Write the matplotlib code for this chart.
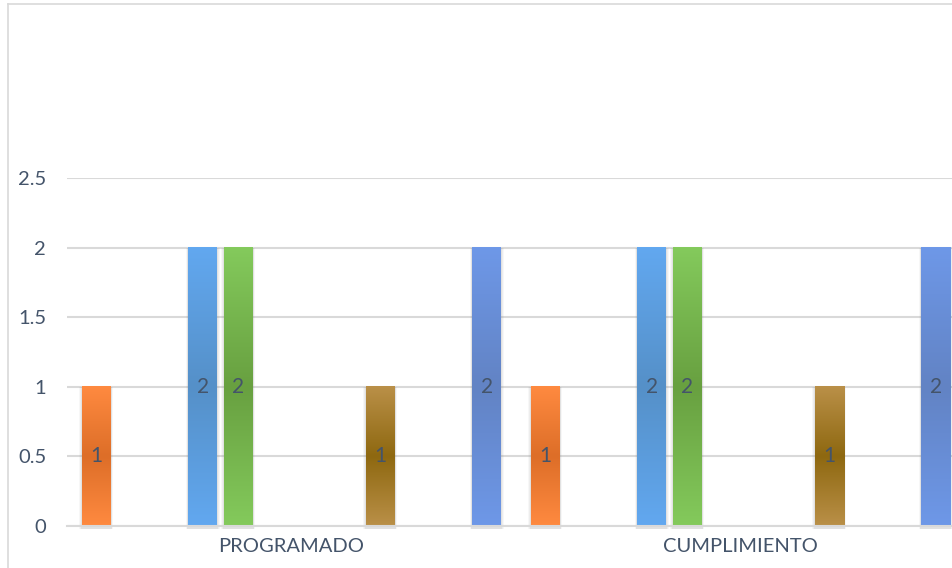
import numpy as np
import matplotlib
matplotlib.use("Agg")
import matplotlib.pyplot as plt
from matplotlib.colors import LinearSegmentedColormap
from matplotlib.patches import Rectangle
from matplotlib.lines import Line2D

plt.rcParams['font.family'] = ['Lato', 'DejaVu Sans']

categories = ['PROGRAMADO', 'CUMPLIMIENTO']
# 12 series, the same values in both categories (zeros are not drawn)
series_values = [1, 0, 0, 2, 2, 0, 0, 0, 1, 0, 0, 2]
# light / dark pairs for the gradient fill of each series
light_colors = ['#FF8A40', '#7F9FD0', '#C0C0C0', '#62A8F0', '#84CA5C', '#5A80C0',
                '#C06030', '#909090', '#BA9048', '#4070B0', '#60A040', '#6E98E8']
dark_colors = ['#DD6E28', '#5F7FB0', '#A0A0A0', '#5590C8', '#68A040', '#3A60A0',
               '#A04010', '#707070', '#8E6810', '#205090', '#407020', '#6283C4']
yticks = [0, 0.5, 1, 1.5, 2, 2.5]

W, H = 952, 568
fig = plt.figure(figsize=(W / 100, H / 100), dpi=100)
# plot area: x from 67px to 965px (runs off the right edge), y from 178px to 526px
ax = fig.add_axes([67 / W, (H - 526) / H, (965 - 67) / W, (526 - 178) / H])

text_col = '#44546A'
grid_col = '#D9D9D9'
n = len(series_values)
step = 35.5 / 449
bw = 29 / 449
grad = np.linspace(0, 1, 256).reshape(-1, 1)

for ci, cat in enumerate(categories):
    for si, v in enumerate(series_values):
        if v == 0:
            continue
        x = ci + (si - (n - 1) / 2) * step
        x0, x1 = x - bw / 2, x + bw / 2
        # soft shadow
        for k, a in [(0.012, 0.06), (0.007, 0.08), (0.004, 0.10)]:
            ax.add_patch(Rectangle((x0 - k / 2, -0.02), bw + k, v + 0.02,
                                   facecolor='#808080', edgecolor='none',
                                   alpha=a, zorder=1.5, clip_on=False))
        cmap = LinearSegmentedColormap.from_list('g%d' % si,
                                                 [light_colors[si], dark_colors[si], light_colors[si]])
        ax.imshow(grad, cmap=cmap, extent=[x0, x1, 0, v], aspect='auto',
                  origin='lower', zorder=2, interpolation='bilinear')
        ax.text(x, v / 2, str(v), ha='center', va='center', fontsize=15,
                color=text_col, zorder=3)

ax.set_xlim(-0.5, 1.5)
ax.set_ylim(0, 2.5)
ax.set_yticks(yticks)
ax.set_yticklabels(['0', '0.5', '1', '1.5', '2', '2.5'])
ax.set_xticks(range(len(categories)))
ax.set_xticklabels(categories)
ax.tick_params(axis='both', length=0, labelsize=14.5, labelcolor=text_col)
ax.tick_params(axis='y', pad=15)
ax.tick_params(axis='x', pad=9)
ax.yaxis.grid(True, color=grid_col, linewidth=1.5, zorder=0)
ax.set_axisbelow(True)
for s in ['top', 'right', 'left']:
    ax.spines[s].set_visible(False)
ax.spines['bottom'].set_color(grid_col)
ax.spines['bottom'].set_linewidth(1.5)
ax.set_facecolor('none')

# chart area border (only left and top visible in the crop)
fig.add_artist(Line2D([8 / W, 8 / W], [0, (H - 4) / H], color=grid_col, linewidth=1.2))
fig.add_artist(Line2D([8 / W, 1], [(H - 4) / H, (H - 4) / H], color=grid_col, linewidth=1.2))

fig.savefig('out.png', dpi=100)
